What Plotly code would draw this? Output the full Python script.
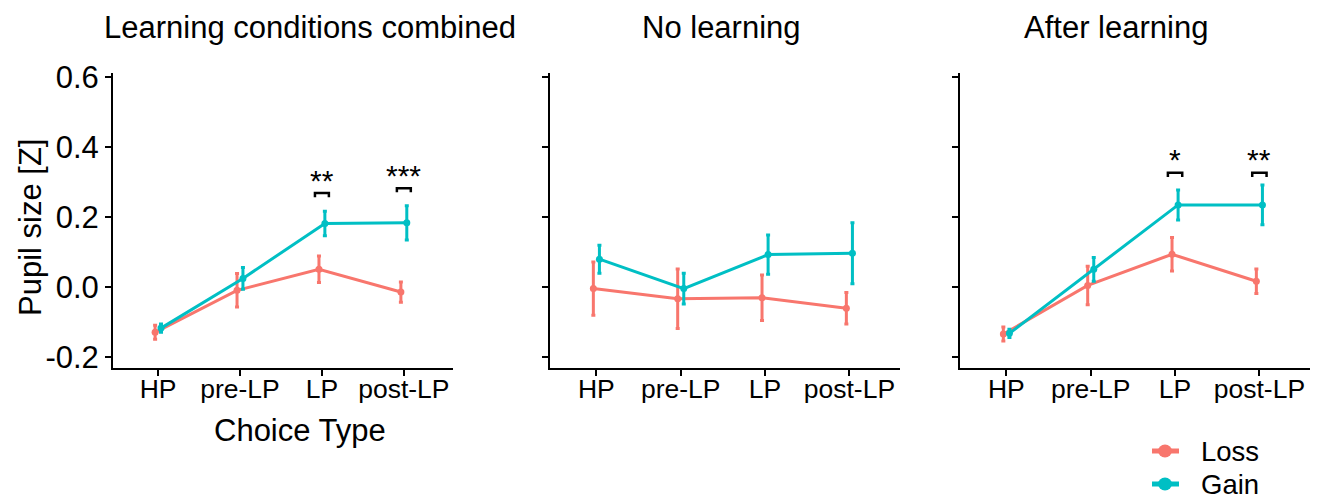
import plotly.graph_objects as go

categories = ["HP", "pre-LP", "LP", "post-LP"]
panel_titles = ["Learning conditions combined", "No learning", "After learning"]
series_names = ["Loss", "Gain"]

# mean and error (half-width) per panel
loss_mean = [[-0.130, -0.010, 0.050, -0.015],
             [-0.005, -0.034, -0.031, -0.061],
             [-0.135, 0.004, 0.093, 0.016]]
loss_err = [[0.020, 0.048, 0.038, 0.029],
            [0.076, 0.085, 0.065, 0.045],
            [0.020, 0.055, 0.048, 0.035]]
gain_mean = [[-0.118, 0.024, 0.181, 0.183],
             [0.079, -0.005, 0.092, 0.096],
             [-0.133, 0.050, 0.234, 0.234]]
gain_err = [[0.012, 0.031, 0.035, 0.049],
            [0.040, 0.044, 0.056, 0.087],
            [0.012, 0.034, 0.043, 0.057]]

# significance marks: (panel, category index, label, bracket height)
sig_marks = [(0, 2, "**", 0.268), (0, 3, "***", 0.282),
             (2, 2, "*", 0.326), (2, 3, "**", 0.326)]

y_ticks = [-0.2, 0.0, 0.2, 0.4, 0.6]
y_tick_text = ["-0.2", "0.0", "0.2", "0.4", "0.6"]

LOSS = "#F8766D"
GAIN = "#00BFC4"
series_colors = [LOSS, GAIN]
FONT = "Liberation Sans, Arial, sans-serif"
W, H = 1319, 499

domains = [(113, 453), (550, 900), (960, 1310)]
title_x = [310, 721, 1116]
ytop, ybot = 73, 368
dodge = 0.036

fig = go.Figure()
for p in range(3):
    xa = "x" if p == 0 else f"x{p+1}"
    ya = "y" if p == 0 else f"y{p+1}"
    for name, col, means, errs, sign in [("Loss", LOSS, loss_mean, loss_err, -1),
                                         ("Gain", GAIN, gain_mean, gain_err, 1)]:
        xs = [i + sign * dodge for i in range(len(categories))]
        fig.add_trace(go.Scatter(
            x=xs, y=means[p], xaxis=xa, yaxis=ya, name=name,
            mode="lines+markers", legendgroup=name, showlegend=False,
            line=dict(color=col, width=3),
            marker=dict(color=col, size=7),
            error_y=dict(type="data", array=errs[p], color=col, thickness=3, width=2),
        ))

layout = dict(
    width=W, height=H, margin=dict(l=0, r=0, t=0, b=0, autoexpand=False),
    plot_bgcolor="white", paper_bgcolor="white",
    font=dict(family=FONT, color="black", size=27),
    showlegend=False,
)
for p in range(3):
    sfx = "" if p == 0 else str(p + 1)
    x0, x1 = domains[p]
    layout["xaxis" + sfx] = dict(
        domain=[x0 / W, x1 / W], anchor="y" + sfx, range=[-0.55, 3.6],
        tickmode="array", tickvals=list(range(len(categories))), ticktext=categories,
        showline=True, linecolor="black", linewidth=2, ticks="outside",
        ticklen=6, tickwidth=2, tickcolor="black", showgrid=False, zeroline=False,
        tickfont=dict(size=26.5, color="black"), automargin=False,
        ticklabelstandoff=-10,
    )
    layout["yaxis" + sfx] = dict(
        domain=[(H - ybot) / H, (H - ytop) / H], anchor="x" + sfx, range=[-0.232, 0.611],
        tickmode="array", tickvals=y_ticks, ticktext=y_tick_text,
        showticklabels=(p == 0),
        showline=True, linecolor="black", linewidth=2, ticks="outside",
        ticklen=6, tickwidth=2, tickcolor="black", showgrid=False, zeroline=False,
        tickfont=dict(size=31, color="black"), automargin=False,
    )
fig.update_layout(**layout)

ann = []
shapes = []
for p in range(3):
    ann.append(dict(text=panel_titles[p], xref="paper", yref="paper",
                    x=title_x[p] / W, y=(H - 28) / H, showarrow=False,
                    xanchor="center", yanchor="middle", font=dict(size=31)))
ann.append(dict(text="Choice Type", xref="paper", yref="paper", x=300 / W, y=(H - 430) / H,
                showarrow=False, xanchor="center", yanchor="middle", font=dict(size=31)))
ann.append(dict(text="Pupil size [Z]", xref="paper", yref="paper", x=30 / W, y=(H - 228) / H,
                showarrow=False, textangle=-90, xanchor="center", yanchor="middle",
                font=dict(size=31)))

# legend (drawn manually to match the key layout)
leg_y = [451, 484]
for name, col, yy in zip(series_names, series_colors, leg_y):
    yp = (H - yy) / H
    shapes.append(dict(type="line", xref="paper", yref="paper",
                       x0=1152 / W, x1=1179 / W, y0=yp, y1=yp,
                       line=dict(color=col, width=5)))
    shapes.append(dict(type="circle", xref="paper", yref="paper",
                       x0=1158 / W, x1=1172 / W, y0=(H - yy - 6.5) / H, y1=(H - yy + 6.5) / H,
                       fillcolor=col, line=dict(color=col, width=0)))
    ann.append(dict(text=name, xref="paper", yref="paper", x=1199 / W, y=yp,
                    showarrow=False, xanchor="left", yanchor="middle",
                    font=dict(size=27.5)))

bw = 0.085
tip = 0.012
for p, ci, lab, h in sig_marks:
    sfx = "" if p == 0 else str(p + 1)
    xr, yr = "x" + sfx, "y" + sfx
    path = f"M {ci-bw},{h-tip} L {ci-bw},{h} L {ci+bw},{h} L {ci+bw},{h-tip}"
    shapes.append(dict(type="path", path=path, xref=xr, yref=yr,
                       line=dict(color="black", width=2.5)))
    ann.append(dict(text=lab, xref=xr, yref=yr, x=ci, y=h, showarrow=False,
                    xanchor="center", yanchor="middle", font=dict(size=30), yshift=13))
fig.update_layout(annotations=ann, shapes=shapes)

fig.write_html("out.html")
